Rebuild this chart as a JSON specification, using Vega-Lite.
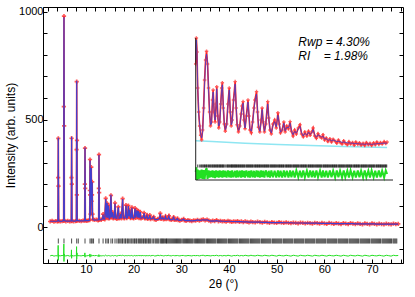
{
"$schema":"https://vega.github.io/schema/vega-lite/v6.json",
"width":360,"height":256,"autosize":"none",
"padding":{"left":43,"top":7,"right":12,"bottom":34},
"background":"white",
"config":{"view":{"stroke":"#000","strokeWidth":1},
 "axis":{"grid":false,"domainColor":"#000","tickColor":"#000","labelColor":"#000","titleColor":"#000","labelFont":"Liberation Sans","titleFont":"Liberation Sans","labelFontSize":11,"titleFontSize":12,"titleFontWeight":"normal"}},
"datasets":{
"main":[
{"x":2.5,"o":26,"c":27,"d":-134},{"x":2.9,"o":29,"c":27,"d":-131},{"x":3.3,"o":25,"c":27,"d":-135},{"x":3.7,"o":28,"c":27,"d":-133},{"x":4.05,"o":27,"c":28,"d":-134},
{"x":4.14,"o":28,"c":29,"d":-133},{"x":4.18,"o":230,"c":200,"d":-85},{"x":4.21,"o":412,"c":415,"d":-155},{"x":4.25,"o":190,"c":185,"d":-128},{"x":4.29,"o":29,"c":29,"d":-133},
{"x":4.6,"o":26,"c":27,"d":-134},{"x":5.0,"o":28,"c":28,"d":-132},
{"x":5.33,"o":29,"c":30,"d":-133},{"x":5.37,"o":560,"c":500,"d":-79},{"x":5.4,"o":981,"c":975,"d":-160},{"x":5.44,"o":470,"c":460,"d":-125},{"x":5.48,"o":30,"c":30,"d":-134},
{"x":5.8,"o":27,"c":28,"d":-134},{"x":6.2,"o":29,"c":28,"d":-132},{"x":6.6,"o":26,"c":28,"d":-135},
{"x":6.93,"o":28,"c":29,"d":-133},{"x":6.97,"o":230,"c":210,"d":-106},{"x":7.0,"o":413,"c":420,"d":-145},{"x":7.04,"o":200,"c":195,"d":-130},{"x":7.08,"o":29,"c":29,"d":-133},
{"x":7.4,"o":27,"c":28,"d":-134},{"x":7.8,"o":28,"c":28,"d":-133},
{"x":8.0,"o":29,"c":30,"d":-132},{"x":8.04,"o":360,"c":330,"d":-91},{"x":8.07,"o":676,"c":680,"d":-150},{"x":8.1,"o":150,"c":140,"d":-128},{"x":8.13,"o":403,"c":400,"d":-120},{"x":8.17,"o":30,"c":31,"d":-133},
{"x":8.6,"o":29,"c":29,"d":-133},{"x":9.0,"o":28,"c":29,"d":-134},{"x":9.4,"o":30,"c":29,"d":-132},
{"x":9.74,"o":30,"c":30,"d":-133},{"x":9.78,"o":200,"c":190,"d":-120},{"x":9.81,"o":367,"c":370,"d":-140},{"x":9.85,"o":180,"c":175,"d":-133},{"x":9.89,"o":31,"c":31,"d":-133},
{"x":10.2,"o":29,"c":30,"d":-134},{"x":10.5,"o":31,"c":30,"d":-132},
{"x":10.79,"o":32,"c":32,"d":-133},{"x":10.83,"o":170,"c":165,"d":-125},{"x":10.86,"o":314,"c":310,"d":-140},{"x":10.9,"o":150,"c":150,"d":-133},{"x":10.98,"o":60,"c":55,"d":-130},{"x":11.06,"o":150,"c":140,"d":-128},{"x":11.12,"o":279,"c":275,"d":-136},{"x":11.2,"o":120,"c":125,"d":-133},{"x":11.28,"o":150,"c":145,"d":-131},{"x":11.32,"o":210,"c":208,"d":-134},{"x":11.38,"o":60,"c":60,"d":-133},{"x":11.46,"o":36,"c":35,"d":-132},
{"x":11.8,"o":33,"c":32,"d":-133},{"x":12.2,"o":35,"c":33,"d":-132},{"x":12.55,"o":31,"c":33,"d":-135},
{"x":12.67,"o":34,"c":34,"d":-133},{"x":12.71,"o":180,"c":170,"d":-128},{"x":12.74,"o":337,"c":335,"d":-138},{"x":12.78,"o":160,"c":160,"d":-133},{"x":12.82,"o":35,"c":35,"d":-133},
{"x":13.2,"o":33,"c":34,"d":-134},{"x":13.5,"o":40,"c":40,"d":-133},{"x":13.6,"o":60,"c":58,"d":-132},{"x":13.7,"o":38,"c":38,"d":-133},{"x":13.95,"o":36,"c":37,"d":-134},
{"x":14.15,"o":133,"c":130,"d":-130},{"x":14.3,"o":45,"c":45,"d":-133},{"x":14.45,"o":110,"c":112,"d":-134},{"x":14.6,"o":42,"c":42,"d":-133},{"x":14.75,"o":102,"c":100,"d":-132},{"x":14.9,"o":40,"c":40,"d":-133},{"x":15.1,"o":45,"c":46,"d":-134},{"x":15.25,"o":147,"c":150,"d":-135},{"x":15.4,"o":45,"c":45,"d":-133},{"x":15.6,"o":70,"c":68,"d":-132},{"x":15.75,"o":40,"c":41,"d":-134},{"x":15.95,"o":44,"c":44,"d":-133},{"x":16.1,"o":112,"c":110,"d":-131},{"x":16.25,"o":42,"c":42,"d":-133},{"x":16.5,"o":38,"c":40,"d":-135},{"x":16.8,"o":94,"c":92,"d":-132},{"x":16.95,"o":40,"c":40,"d":-133},{"x":17.15,"o":44,"c":42,"d":-131},{"x":17.3,"o":62,"c":60,"d":-132},{"x":17.45,"o":40,"c":40,"d":-133},{"x":17.7,"o":132,"c":130,"d":-131},{"x":17.85,"o":45,"c":44,"d":-132},{"x":18.05,"o":40,"c":41,"d":-134},{"x":18.25,"o":48,"c":47,"d":-133},{"x":18.4,"o":102,"c":100,"d":-132},{"x":18.55,"o":42,"c":42,"d":-133},{"x":18.75,"o":46,"c":45,"d":-133},{"x":18.9,"o":100,"c":98,"d":-132},{"x":19.05,"o":50,"c":50,"d":-133},{"x":19.2,"o":80,"c":80,"d":-133},{"x":19.35,"o":42,"c":42,"d":-133},{"x":19.5,"o":45,"c":45,"d":-132},{"x":19.65,"o":92,"c":90,"d":-132},{"x":19.8,"o":44,"c":45,"d":-134},{"x":20.0,"o":40,"c":41,"d":-134},{"x":20.15,"o":48,"c":47,"d":-132},{"x":20.3,"o":88,"c":86,"d":-132},{"x":20.45,"o":43,"c":44,"d":-134},{"x":20.7,"o":79,"c":78,"d":-132},{"x":20.85,"o":45,"c":45,"d":-133},{"x":21.0,"o":75,"c":74,"d":-132},{"x":21.15,"o":42,"c":42,"d":-133},{"x":21.4,"o":71,"c":70,"d":-132},{"x":21.55,"o":40,"c":41,"d":-134},{"x":21.8,"o":44,"c":43,"d":-132},{"x":22.05,"o":46,"c":46,"d":-133},{"x":22.2,"o":66,"c":65,"d":-132},{"x":22.35,"o":40,"c":40,"d":-133},{"x":22.6,"o":42,"c":43,"d":-134},{"x":22.8,"o":55,"c":54,"d":-132},{"x":22.95,"o":38,"c":38,"d":-133},{"x":23.2,"o":41,"c":41,"d":-133},{"x":23.4,"o":56,"c":55,"d":-132},{"x":23.55,"o":37,"c":38,"d":-134},{"x":23.9,"o":40,"c":39,"d":-132},{"x":24.2,"o":48,"c":47,"d":-132},{"x":24.35,"o":36,"c":37,"d":-134},{"x":24.7,"o":34,"c":35,"d":-134},{"x":25.1,"o":38,"c":36,"d":-131},{"x":25.45,"o":40,"c":40,"d":-133},{"x":25.6,"o":64,"c":62,"d":-131},{"x":25.75,"o":38,"c":38,"d":-133},{"x":25.95,"o":40,"c":39,"d":-132},{"x":26.1,"o":45,"c":45,"d":-133},{"x":26.3,"o":36,"c":37,"d":-134},{"x":26.55,"o":38,"c":38,"d":-133},{"x":26.7,"o":50,"c":49,"d":-132},{"x":26.85,"o":37,"c":37,"d":-133},{"x":27.2,"o":39,"c":38,"d":-132},{"x":27.4,"o":52,"c":50,"d":-131},{"x":27.55,"o":36,"c":36,"d":-133},{"x":27.9,"o":33,"c":34,"d":-134},{"x":28.2,"o":37,"c":36,"d":-132},{"x":28.4,"o":46,"c":45,"d":-132},{"x":28.55,"o":34,"c":34,"d":-133},{"x":28.9,"o":33,"c":33,"d":-133},{"x":29.2,"o":40,"c":39,"d":-132},{"x":29.35,"o":32,"c":32,"d":-133},{"x":29.7,"o":30,"c":31,"d":-134},{"x":30.1,"o":33,"c":32,"d":-132},{"x":30.5,"o":38,"c":37,"d":-132},{"x":30.65,"o":31,"c":31,"d":-133},{"x":31.0,"o":29,"c":30,"d":-134},{"x":31.4,"o":32,"c":31,"d":-132},{"x":31.8,"o":30,"c":30,"d":-133},{"x":32.2,"o":28,"c":29,"d":-134},{"x":32.6,"o":31,"c":30,"d":-132},{"x":33.0,"o":30,"c":30,"d":-133},{"x":33.4,"o":34,"c":33,"d":-132},{"x":33.8,"o":30,"c":31,"d":-134},{"x":34.2,"o":33,"c":32,"d":-132},{"x":34.6,"o":36,"c":34,"d":-131},{"x":35.0,"o":31,"c":32,"d":-134},{"x":35.4,"o":35,"c":34,"d":-132},{"x":35.8,"o":30,"c":30,"d":-133},{"x":36.2,"o":27,"c":28,"d":-134},{"x":36.6,"o":30,"c":29,"d":-132},{"x":37.0,"o":28,"c":28,"d":-133},{"x":37.4,"o":32,"c":30,"d":-131},{"x":37.8,"o":27,"c":28,"d":-134},{"x":38.2,"o":29,"c":28,"d":-132},{"x":38.6,"o":26,"c":27,"d":-134},{"x":39.0,"o":28,"c":27,"d":-132},{"x":39.4,"o":25,"c":26,"d":-134},{"x":39.8,"o":29,"c":27,"d":-131},{"x":40.2,"o":27,"c":27,"d":-133},{"x":40.6,"o":24,"c":26,"d":-135},{"x":41.0,"o":27,"c":26,"d":-132},{"x":41.4,"o":25,"c":25,"d":-133},{"x":41.8,"o":28,"c":26,"d":-131},{"x":42.2,"o":24,"c":25,"d":-134},{"x":42.6,"o":26,"c":25,"d":-132},{"x":43.0,"o":23,"c":24,"d":-134},{"x":43.4,"o":26,"c":24,"d":-131},{"x":43.8,"o":24,"c":24,"d":-133},{"x":44.2,"o":22,"c":23,"d":-134},{"x":44.6,"o":25,"c":23,"d":-131},{"x":45.0,"o":23,"c":23,"d":-133},
{"x":45.5,"o":22,"c":23,"d":-134},{"x":46.0,"o":25,"c":23,"d":-131},{"x":46.5,"o":23,"c":23,"d":-133},{"x":47.0,"o":21,"c":22,"d":-134},{"x":47.5,"o":24,"c":22,"d":-131},{"x":48.0,"o":22,"c":22,"d":-133},{"x":48.5,"o":20,"c":21,"d":-134},{"x":49.0,"o":23,"c":21,"d":-131},{"x":49.5,"o":21,"c":21,"d":-133},{"x":50.0,"o":19,"c":21,"d":-135},{"x":50.5,"o":23,"c":21,"d":-131},{"x":51.0,"o":21,"c":21,"d":-133},{"x":51.5,"o":19,"c":20,"d":-134},{"x":52.0,"o":22,"c":20,"d":-131},{"x":52.5,"o":20,"c":20,"d":-133},{"x":53.0,"o":18,"c":20,"d":-135},{"x":53.5,"o":21,"c":19,"d":-131},{"x":54.0,"o":19,"c":19,"d":-133},{"x":54.5,"o":17,"c":19,"d":-135},{"x":55.0,"o":21,"c":19,"d":-131},{"x":55.5,"o":19,"c":19,"d":-133},{"x":56.0,"o":17,"c":18,"d":-134},{"x":56.5,"o":20,"c":18,"d":-131},{"x":57.0,"o":18,"c":18,"d":-133},{"x":57.5,"o":16,"c":18,"d":-135},{"x":58.0,"o":20,"c":18,"d":-131},{"x":58.5,"o":18,"c":18,"d":-133},{"x":59.0,"o":16,"c":17,"d":-134},{"x":59.5,"o":19,"c":17,"d":-131},{"x":60.0,"o":17,"c":17,"d":-133},{"x":60.5,"o":15,"c":17,"d":-135},{"x":61.0,"o":19,"c":17,"d":-131},{"x":61.5,"o":17,"c":17,"d":-133},{"x":62.0,"o":15,"c":16,"d":-134},{"x":62.5,"o":18,"c":16,"d":-131},{"x":63.0,"o":16,"c":16,"d":-133},{"x":63.5,"o":14,"c":16,"d":-135},{"x":64.0,"o":18,"c":16,"d":-131},{"x":64.5,"o":16,"c":16,"d":-133},{"x":65.0,"o":14,"c":16,"d":-135},{"x":65.5,"o":18,"c":16,"d":-131},{"x":66.0,"o":16,"c":16,"d":-133},{"x":66.5,"o":14,"c":15,"d":-134},{"x":67.0,"o":17,"c":15,"d":-131},{"x":67.5,"o":15,"c":15,"d":-133},{"x":68.0,"o":13,"c":15,"d":-135},{"x":68.5,"o":17,"c":15,"d":-131},{"x":69.0,"o":15,"c":15,"d":-133},{"x":69.5,"o":13,"c":15,"d":-135},{"x":70.0,"o":17,"c":15,"d":-131},{"x":70.5,"o":15,"c":15,"d":-133},{"x":71.0,"o":13,"c":14,"d":-134},{"x":71.5,"o":16,"c":14,"d":-131},{"x":72.0,"o":14,"c":14,"d":-133},{"x":72.5,"o":12,"c":14,"d":-135},{"x":73.0,"o":16,"c":14,"d":-131},{"x":73.5,"o":14,"c":14,"d":-133},{"x":74.0,"o":12,"c":14,"d":-135},{"x":74.5,"o":16,"c":14,"d":-131},{"x":75.0,"o":14,"c":14,"d":-133},{"x":75.5,"o":15,"c":14,"d":-132}
],
"bragg":[
{"b":4.21},{"b":5.4},{"b":7.0},{"b":8.07},{"b":8.4},{"b":9.81},{"b":10.86},{"b":11.12},{"b":11.32},{"b":11.6},{"b":12.74},{"b":13.6},{"b":14.15},{"b":14.45},{"b":14.75},{"b":15.25},{"b":15.6},{"b":16.1},{"b":16.5},{"b":16.8},
{"b":17.0},{"b":17.3},{"b":17.55},{"b":17.7},{"b":18.0},{"b":18.25},{"b":18.4},{"b":18.7},{"b":18.9},{"b":19.2},{"b":19.45},{"b":19.65},{"b":19.9},{"b":20.15},{"b":20.3},{"b":20.55},{"b":20.7},{"b":21.0},{"b":21.2},{"b":21.4},{"b":21.6},{"b":21.8},{"b":22.05},{"b":22.2},{"b":22.45},{"b":22.6},{"b":22.8},{"b":23.05},{"b":23.2},{"b":23.4},{"b":23.6},{"b":23.9},{"b":24.2},{"b":24.5},{"b":24.7},{"b":24.9},{"b":25.1},{"b":25.3},{"b":25.6},{"b":25.8},{"b":25.95},{"b":26.1},{"b":26.3},{"b":26.45},{"b":26.7},{"b":26.9},{"b":27.0},{"b":27.2},{"b":27.4},{"b":27.6},{"b":27.8},{"b":28.0},{"b":28.2},{"b":28.4},{"b":28.6},{"b":28.8},{"b":29.0},{"b":29.2},{"b":29.4},{"b":29.6},{"b":29.8},{"b":30.0},{"b":30.3},{"b":30.5},{"b":30.7},{"b":30.9},{"b":31.1},{"b":31.3},{"b":31.5},{"b":31.7},{"b":31.9},{"b":32.1},{"b":32.3},{"b":32.5},{"b":32.8},{"b":33.0},{"b":33.2},{"b":33.4},{"b":33.6},{"b":33.8},{"b":34.0},{"b":34.2},{"b":34.4},{"b":34.6},{"b":34.8},{"b":35.0},{"b":35.3},{"b":35.5},{"b":35.7},{"b":35.9},{"b":36.1},{"b":36.3},{"b":36.5},{"b":36.7},{"b":36.9},{"b":37.1},{"b":37.3},{"b":37.6},{"b":37.8},{"b":38.0},{"b":38.2},{"b":38.4},{"b":38.6},{"b":38.8},{"b":39.0},{"b":39.2},{"b":39.4},{"b":39.6},{"b":39.9},{"b":40.1},{"b":40.3},{"b":40.5},{"b":40.7},{"b":40.9},{"b":41.1},{"b":41.3},{"b":41.5},{"b":41.7},{"b":41.9},{"b":42.2},{"b":42.4},{"b":42.6},{"b":42.8},{"b":43.0},{"b":43.2},{"b":43.4},{"b":43.6},{"b":43.8},{"b":44.0},{"b":44.2},{"b":44.5},{"b":44.7},{"b":44.9},{"b":45.1},{"b":45.3},{"b":45.5},{"b":45.7},{"b":45.9},{"b":46.1},{"b":46.3},{"b":46.5},{"b":46.8},{"b":47.0},{"b":47.2},{"b":47.4},{"b":47.6},{"b":47.8},{"b":48.0},{"b":48.2},{"b":48.4},{"b":48.6},{"b":48.8},{"b":49.1},{"b":49.3},{"b":49.5},{"b":49.7},{"b":49.9},{"b":50.1},{"b":50.3},{"b":50.5},{"b":50.7},{"b":50.9},{"b":51.1},{"b":51.4},{"b":51.6},{"b":51.8},{"b":52.0},{"b":52.2},{"b":52.4},{"b":52.6},{"b":52.8},{"b":53.0},{"b":53.2},{"b":53.4},{"b":53.7},{"b":53.9},{"b":54.1},{"b":54.3},{"b":54.5},{"b":54.7},{"b":54.9},{"b":55.1},{"b":55.3},{"b":55.5},{"b":55.7},{"b":56.0},{"b":56.2},{"b":56.4},{"b":56.6},{"b":56.8},{"b":57.0},{"b":57.2},{"b":57.4},{"b":57.6},{"b":57.8},{"b":58.0},{"b":58.3},{"b":58.5},{"b":58.7},{"b":58.9},{"b":59.1},{"b":59.3},{"b":59.5},{"b":59.7},{"b":59.9},{"b":60.1},{"b":60.3},{"b":60.6},{"b":60.8},{"b":61.0},{"b":61.2},{"b":61.4},{"b":61.6},{"b":61.8},{"b":62.0},{"b":62.2},{"b":62.4},{"b":62.6},{"b":62.9},{"b":63.1},{"b":63.3},{"b":63.5},{"b":63.7},{"b":63.9},{"b":64.1},{"b":64.3},{"b":64.5},{"b":64.7},{"b":64.9},{"b":65.2},{"b":65.4},{"b":65.6},{"b":65.8},{"b":66.0},{"b":66.2},{"b":66.4},{"b":66.6},{"b":66.8},{"b":67.0},{"b":67.2},{"b":67.5},{"b":67.7},{"b":67.9},{"b":68.1},{"b":68.3},{"b":68.5},{"b":68.7},{"b":68.9},{"b":69.1},{"b":69.3},{"b":69.5},{"b":69.8},{"b":70.0},{"b":70.2},{"b":70.4},{"b":70.6},{"b":70.8},{"b":71.0},{"b":71.2},{"b":71.4},{"b":71.6},{"b":71.8},{"b":72.1},{"b":72.3},{"b":72.5},{"b":72.7},{"b":72.9},{"b":73.1},{"b":73.3},{"b":73.5},{"b":73.7},{"b":73.9},{"b":74.1},{"b":74.4},{"b":74.6},{"b":74.8},{"b":75.0},{"b":75.2}
],
"inset":[
{"t":15.0,"o":240,"c":250,"d":-30},{"t":15.2,"o":305,"c":300,"d":-18},{"t":15.4,"o":270,"c":265,"d":-50},{"t":15.6,"o":180,"c":190,"d":-24},{"t":15.9,"o":120,"c":115,"d":-48},{"t":16.2,"o":85,"c":90,"d":-26},{"t":16.5,"o":62,"c":65,"d":-46},{"t":16.8,"o":50,"c":55,"d":-24},{"t":17.1,"o":75,"c":70,"d":-47},{"t":17.4,"o":130,"c":120,"d":-25},{"t":17.7,"o":200,"c":190,"d":-48},{"t":18.0,"o":250,"c":245,"d":-27},{"t":18.3,"o":272,"c":265,"d":-20},{"t":18.6,"o":240,"c":245,"d":-47},{"t":18.9,"o":180,"c":175,"d":-26},{"t":19.2,"o":120,"c":125,"d":-44},{"t":19.5,"o":85,"c":88,"d":-27},{"t":19.8,"o":95,"c":90,"d":-43},{"t":20.1,"o":150,"c":145,"d":-26},{"t":20.3,"o":175,"c":170,"d":-44},{"t":20.6,"o":120,"c":125,"d":-27},{"t":20.9,"o":95,"c":100,"d":-45},{"t":21.2,"o":140,"c":135,"d":-26},{"t":21.4,"o":183,"c":178,"d":-43},{"t":21.7,"o":110,"c":115,"d":-27},{"t":22.0,"o":80,"c":85,"d":-44},{"t":22.3,"o":95,"c":92,"d":-26},{"t":22.6,"o":140,"c":135,"d":-43},{"t":22.9,"o":180,"c":175,"d":-27},{"t":23.1,"o":193,"c":188,"d":-44},{"t":23.4,"o":130,"c":135,"d":-26},{"t":23.7,"o":90,"c":92,"d":-43},{"t":24.0,"o":72,"c":76,"d":-27},{"t":24.4,"o":90,"c":85,"d":-44},{"t":24.8,"o":140,"c":135,"d":-26},{"t":25.2,"o":180,"c":175,"d":-43},{"t":25.5,"o":120,"c":125,"d":-27},{"t":25.8,"o":85,"c":88,"d":-44},{"t":26.1,"o":100,"c":95,"d":-26},{"t":26.5,"o":150,"c":145,"d":-43},{"t":27.0,"o":196,"c":190,"d":-27},{"t":27.3,"o":130,"c":135,"d":-44},{"t":27.6,"o":88,"c":90,"d":-26},{"t":28.0,"o":70,"c":74,"d":-43},{"t":28.4,"o":85,"c":82,"d":-27},{"t":28.8,"o":115,"c":112,"d":-44},{"t":29.1,"o":135,"c":130,"d":-26},{"t":29.4,"o":146,"c":142,"d":-43},{"t":29.7,"o":100,"c":104,"d":-27},{"t":30.0,"o":78,"c":80,"d":-44},{"t":30.4,"o":110,"c":105,"d":-26},{"t":30.9,"o":150,"c":145,"d":-43},{"t":31.2,"o":110,"c":115,"d":-27},{"t":31.5,"o":75,"c":78,"d":-44},{"t":31.9,"o":68,"c":72,"d":-26},{"t":32.3,"o":95,"c":92,"d":-43},{"t":32.7,"o":130,"c":125,"d":-27},{"t":33.0,"o":150,"c":145,"d":-44},{"t":33.5,"o":171,"c":165,"d":-26},{"t":33.8,"o":120,"c":125,"d":-43},{"t":34.1,"o":82,"c":85,"d":-27},{"t":34.5,"o":70,"c":72,"d":-44},{"t":34.9,"o":100,"c":96,"d":-26},{"t":35.2,"o":130,"c":126,"d":-43},{"t":35.5,"o":95,"c":98,"d":-27},{"t":35.9,"o":70,"c":72,"d":-44},{"t":36.3,"o":90,"c":88,"d":-26},{"t":36.9,"o":146,"c":140,"d":-43},{"t":37.2,"o":105,"c":108,"d":-27},{"t":37.6,"o":75,"c":78,"d":-44},{"t":38.0,"o":65,"c":68,"d":-26},{"t":38.5,"o":90,"c":86,"d":-43},{"t":39.0,"o":100,"c":96,"d":-27},{"t":39.5,"o":80,"c":83,"d":-44},{"t":40.0,"o":118,"c":112,"d":-26},{"t":40.4,"o":90,"c":92,"d":-43},{"t":40.8,"o":68,"c":70,"d":-27},{"t":41.3,"o":75,"c":74,"d":-44},{"t":41.8,"o":95,"c":92,"d":-26},{"t":42.2,"o":70,"c":73,"d":-43},{"t":42.7,"o":85,"c":82,"d":-27},{"t":43.2,"o":78,"c":80,"d":-44},{"t":43.7,"o":96,"c":92,"d":-26},{"t":44.1,"o":72,"c":74,"d":-43},{"t":44.6,"o":60,"c":63,"d":-27},{"t":45.1,"o":75,"c":72,"d":-44},{"t":45.6,"o":65,"c":67,"d":-26},{"t":46.2,"o":80,"c":78,"d":-43},{"t":46.7,"o":88,"c":84,"d":-27},{"t":47.2,"o":65,"c":68,"d":-44},{"t":47.7,"o":58,"c":60,"d":-26},{"t":48.2,"o":70,"c":67,"d":-43},{"t":48.8,"o":60,"c":62,"d":-27},{"t":49.3,"o":72,"c":70,"d":-44},{"t":49.8,"o":62,"c":64,"d":-26},{"t":50.3,"o":70,"c":68,"d":-43},{"t":50.7,"o":80,"c":76,"d":-27},{"t":51.2,"o":60,"c":63,"d":-44},{"t":51.7,"o":54,"c":57,"d":-26},{"t":52.2,"o":66,"c":63,"d":-43},{"t":52.8,"o":58,"c":60,"d":-27},{"t":53.3,"o":55,"c":57,"d":-44},{"t":53.7,"o":63,"c":60,"d":-26},{"t":54.2,"o":50,"c":52,"d":-43},{"t":54.7,"o":55,"c":54,"d":-27},{"t":55.2,"o":46,"c":49,"d":-44},{"t":55.8,"o":53,"c":51,"d":-26},{"t":56.3,"o":45,"c":48,"d":-43},{"t":56.8,"o":52,"c":50,"d":-27},{"t":57.4,"o":47,"c":48,"d":-44},{"t":57.9,"o":42,"c":46,"d":-26},{"t":58.4,"o":50,"c":47,"d":-43},{"t":58.9,"o":44,"c":46,"d":-27},{"t":59.5,"o":40,"c":44,"d":-44},{"t":60.0,"o":48,"c":45,"d":-26},{"t":60.5,"o":42,"c":44,"d":-43},{"t":61.1,"o":38,"c":43,"d":-27},{"t":61.6,"o":46,"c":43,"d":-44},{"t":62.1,"o":40,"c":42,"d":-26},{"t":62.7,"o":44,"c":42,"d":-43},{"t":63.2,"o":37,"c":41,"d":-27},{"t":63.7,"o":45,"c":41,"d":-44},{"t":64.3,"o":39,"c":41,"d":-26},{"t":64.8,"o":43,"c":40,"d":-43},{"t":65.3,"o":37,"c":40,"d":-27},{"t":65.9,"o":42,"c":40,"d":-44},{"t":66.4,"o":36,"c":39,"d":-26},{"t":66.9,"o":44,"c":40,"d":-43},{"t":67.5,"o":38,"c":40,"d":-27},{"t":68.0,"o":42,"c":40,"d":-44},{"t":68.5,"o":36,"c":39,"d":-26},{"t":69.1,"o":43,"c":40,"d":-43},{"t":69.6,"o":38,"c":40,"d":-27},{"t":70.1,"o":45,"c":41,"d":-44},{"t":70.7,"o":39,"c":41,"d":-26},{"t":71.2,"o":44,"c":41,"d":-43},{"t":71.7,"o":40,"c":42,"d":-27},{"t":72.3,"o":46,"c":42,"d":-44},{"t":72.8,"o":41,"c":42,"d":-26},{"t":73.2,"o":45,"c":42,"d":-35}
],
"inset_bg":[{"t":15.0,"v":48},{"t":20,"v":46},{"t":30,"v":42},{"t":40,"v":39},{"t":50,"v":36},{"t":60,"v":33.5},{"t":73.2,"v":31}],
"inset_frame":[{"t":15,"v":-50,"t2":15,"v2":305},{"t":15,"v":-50,"t2":75,"v2":-50}],
"rtext":[{"t":46.2,"v":294,"label":"Rwp = 4.30%"},{"t":46.2,"v":261,"label":"RI\u00a0\u00a0\u00a0\u00a0= 1.98%"}]
},
"layer":[
{"layer":[
 {"data":{"name":"main"},"mark":{"type":"line","color":"#ff2020","strokeWidth":1.6},
  "encoding":{
   "x":{"field":"x","type":"quantitative","scale":{"domain":[1,76.5],"nice":false,"zero":false},
     "axis":{"orient":"bottom","values":[2,4,6,8,10,12,14,16,18,20,22,24,26,28,30,32,34,36,38,40,42,44,46,48,50,52,54,56,58,60,62,64,66,68,70,72,74,76],"labelExpr":"datum.value % 10 === 0 ? datum.label : ''","tickSize":-4,"labelPadding":4,"title":"2θ (°)","titlePadding":4}},
   "y":{"field":"o","type":"quantitative","scale":{"domain":[-167,1023],"nice":false,"zero":false},
     "axis":{"orient":"left","values":[-100,0,100,200,300,400,500,600,700,800,900,1000],"format":"d","labelExpr":"datum.value % 500 === 0 ? datum.label : ''","tickSize":-4,"labelPadding":4,"title":"Intensity (arb. units)","titlePadding":1}}}},
 {"data":{"name":"main"},"mark":{"type":"point","shape":"cross","filled":true,"size":18,"color":"#ff3030","opacity":0.8},
  "encoding":{
   "x":{"field":"x","type":"quantitative","scale":{"domain":[1,76.5],"nice":false,"zero":false},
     "axis":{"orient":"top","values":[2,4,6,8,10,12,14,16,18,20,22,24,26,28,30,32,34,36,38,40,42,44,46,48,50,52,54,56,58,60,62,64,66,68,70,72,74,76],"labels":false,"tickSize":-4,"title":null,"domain":false}},
   "y":{"field":"o","type":"quantitative","scale":{"domain":[-167,1023],"nice":false,"zero":false},
     "axis":{"orient":"right","values":[-100,0,100,200,300,400,500,600,700,800,900,1000],"labels":false,"tickSize":-4,"title":null,"domain":false}}}},
 {"data":{"name":"main"},"mark":{"type":"line","color":"#4040d0","strokeWidth":1.2},
  "encoding":{
   "x":{"field":"x","type":"quantitative","scale":{"domain":[1,76.5],"nice":false,"zero":false},"axis":null},
   "y":{"field":"c","type":"quantitative","scale":{"domain":[-167,1023],"nice":false,"zero":false},"axis":null}}},
 {"data":{"name":"main"},"mark":{"type":"line","color":"#22e022","strokeWidth":1},
  "encoding":{
   "x":{"field":"x","type":"quantitative","scale":{"domain":[1,76.5],"nice":false,"zero":false},"axis":null},
   "y":{"field":"d","type":"quantitative","scale":{"domain":[-167,1023],"nice":false,"zero":false},"axis":null}}},
 {"data":{"name":"bragg"},"mark":{"type":"tick","orient":"vertical","color":"#000","size":5,"thickness":1},
  "encoding":{
   "x":{"field":"b","type":"quantitative","scale":{"domain":[1,76.5],"nice":false,"zero":false},"axis":null},
   "y":{"datum":-65,"type":"quantitative","scale":{"domain":[-167,1023],"nice":false,"zero":false},"axis":null}}}
]},
{"layer":[
 {"data":{"name":"inset_bg"},"mark":{"type":"line","color":"#8fe6f2","strokeWidth":1.5},
  "encoding":{
   "x":{"field":"t","type":"quantitative","scale":{"domain":[-31.44,78.04],"nice":false,"zero":false},"axis":null},
   "y":{"field":"v","type":"quantitative","scale":{"domain":[-257.5,382.5],"nice":false,"zero":false},"axis":null}}},
 {"data":{"name":"inset"},"mark":{"type":"line","color":"#ff2020","strokeWidth":1.6},
  "encoding":{
   "x":{"field":"t","type":"quantitative","scale":{"domain":[-31.44,78.04],"nice":false,"zero":false},"axis":null},
   "y":{"field":"o","type":"quantitative","scale":{"domain":[-257.5,382.5],"nice":false,"zero":false},"axis":null}}},
 {"data":{"name":"inset"},"mark":{"type":"point","shape":"cross","filled":true,"size":12,"color":"#ff4040","opacity":0.8},
  "encoding":{
   "x":{"field":"t","type":"quantitative","scale":{"domain":[-31.44,78.04],"nice":false,"zero":false},"axis":null},
   "y":{"field":"o","type":"quantitative","scale":{"domain":[-257.5,382.5],"nice":false,"zero":false},"axis":null}}},
 {"data":{"name":"inset"},"mark":{"type":"line","color":"#4040d0","strokeWidth":0.9,"opacity":0.9},
  "encoding":{
   "x":{"field":"t","type":"quantitative","scale":{"domain":[-31.44,78.04],"nice":false,"zero":false},"axis":null},
   "y":{"field":"c","type":"quantitative","scale":{"domain":[-257.5,382.5],"nice":false,"zero":false},"axis":null}}},
 {"data":{"name":"inset"},"mark":{"type":"line","color":"#22e022","strokeWidth":2},
  "encoding":{
   "x":{"field":"t","type":"quantitative","scale":{"domain":[-31.44,78.04],"nice":false,"zero":false},"axis":null},
   "y":{"field":"d","type":"quantitative","scale":{"domain":[-257.5,382.5],"nice":false,"zero":false},"axis":null}}},
 {"data":{"name":"bragg"},"transform":[{"filter":"datum.b >= 15.3 && datum.b <= 73.2"}],"mark":{"type":"tick","orient":"vertical","color":"#000","size":3,"thickness":1},
  "encoding":{
   "x":{"field":"b","type":"quantitative","scale":{"domain":[-31.44,78.04],"nice":false,"zero":false},"axis":null},
   "y":{"datum":-15,"type":"quantitative","scale":{"domain":[-257.5,382.5],"nice":false,"zero":false},"axis":null}}},
 {"data":{"name":"inset_frame"},"mark":{"type":"rule","color":"#222","strokeWidth":1},
  "encoding":{
   "x":{"field":"t","type":"quantitative","scale":{"domain":[-31.44,78.04],"nice":false,"zero":false},"axis":null},
   "y":{"field":"v","type":"quantitative","scale":{"domain":[-257.5,382.5],"nice":false,"zero":false},"axis":null},
   "x2":{"field":"t2"},"y2":{"field":"v2"}}},
 {"data":{"name":"rtext"},"mark":{"type":"text","align":"left","baseline":"middle","font":"Liberation Sans","fontStyle":"italic","fontSize":12,"color":"#000"},
  "encoding":{
   "x":{"field":"t","type":"quantitative","scale":{"domain":[-31.44,78.04],"nice":false,"zero":false},"axis":null},
   "y":{"field":"v","type":"quantitative","scale":{"domain":[-257.5,382.5],"nice":false,"zero":false},"axis":null},
   "text":{"field":"label"}}}
]}
],
"resolve":{"scale":{"x":"independent","y":"independent"}}
}
